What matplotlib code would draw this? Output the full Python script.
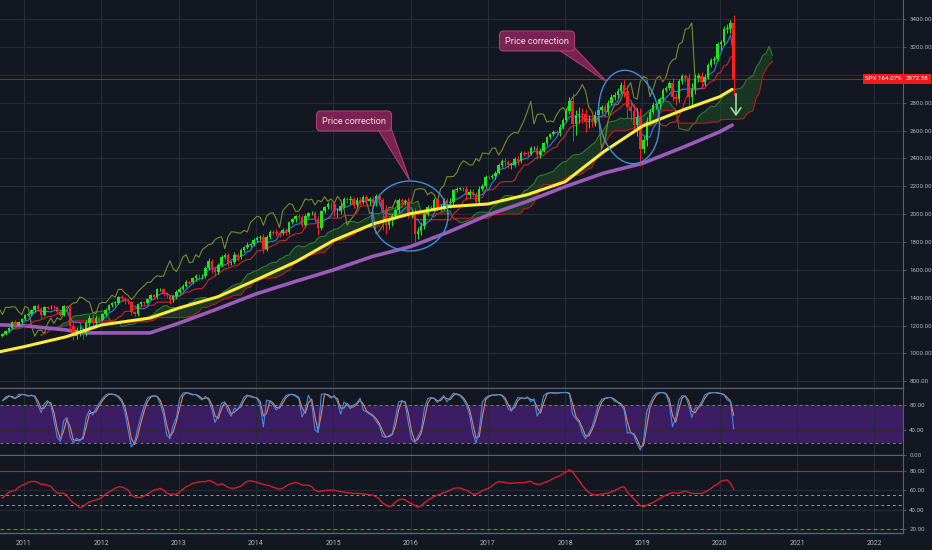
import numpy as np
import pandas as pd
import matplotlib
matplotlib.use("Agg")
import matplotlib.pyplot as plt
from matplotlib.patches import Polygon

plt.rcParams['font.family'] = ['Roboto', 'DejaVu Sans']

# S&P 500, semi-monthly closes (Sep 2010 .. Mar 2020)
first_date = 2010.722
step = 1 / 24
first_open = 1125
closes = [
    1140, 1160, 1180, 1225, 1199, 1224, 1247,
    1276, 1281, 1310, 1343, 1321, 1279, 1332, 1330, 1335, 1333, 1300, 1278,
    1337, 1326, 1199, 1123, 1165, 1166, 1144, 1215, 1253, 1216, 1257, 1241,
    1281, 1315, 1344, 1362, 1364, 1405, 1398, 1378, 1369, 1295, 1285, 1355,
    1367, 1363, 1390, 1418, 1404, 1460, 1460, 1433, 1417, 1387, 1409, 1443,
    1466, 1486, 1512, 1511, 1540, 1558, 1553, 1555, 1614, 1666, 1608, 1588,
    1632, 1692, 1709, 1652, 1655, 1709, 1690, 1745, 1762, 1782, 1785, 1818,
    1831, 1838, 1752, 1836, 1873, 1872, 1865, 1864, 1884, 1872, 1941, 1962,
    1985, 1978, 1920, 1986, 2007, 2010, 1967, 1904, 2023, 2052, 2075, 2070,
    2020, 2022, 2062, 2110, 2101, 2108, 2066, 2100, 2089, 2125, 2092, 2110,
    2077, 2128, 2099, 2035, 1921, 1958, 1987, 2030, 2099, 2089, 2091, 2005,
    2016, 1859, 1880, 1917, 1999, 2049, 2045, 2102, 2050, 2052, 2099, 2083,
    2089, 2173, 2182, 2183, 2179, 2139, 2159, 2141, 2085, 2182, 2204, 2270,
    2269, 2271, 2297, 2351, 2383, 2373, 2353, 2355, 2399, 2381, 2439, 2437,
    2432, 2473, 2476, 2425, 2457, 2508, 2552, 2575, 2587, 2582, 2629, 2679,
    2743, 2810, 2649, 2716, 2720, 2717, 2662, 2670, 2663, 2713, 2748, 2767,
    2736, 2802, 2840, 2857, 2888, 2931, 2885, 2768, 2738, 2641, 2700, 2467,
    2532, 2670, 2737, 2784, 2789, 2824, 2892, 2905, 2945, 2840, 2826, 2954,
    2990, 2976, 2844, 2900, 2976, 2992, 2952, 2986, 3074, 3108, 3117, 3221,
    3234, 3329, 3334, 3373, 2972,
]
# wick lengths above / below the candle body (points)
wick_up = [
    8, 10, 8, 10, 12, 8, 6,
    10, 8, 10, 8, 10, 12, 8, 10, 12, 10, 8, 10, 10, 12, 20, 30, 25, 30, 20, 25, 20, 30, 20, 15,
    10, 12, 10, 10, 12, 10, 12, 10, 10, 8, 12, 10, 12, 10, 10, 8, 12, 10, 12, 10, 10, 12, 10, 10,
    10, 10, 12, 10, 12, 10, 15, 12, 15, 20, 15, 15, 15, 12, 10, 12, 12, 20, 12, 15, 12, 15, 10, 12,
    15, 15, 20, 12, 15, 15, 20, 15, 15, 15, 12, 10, 12, 15, 15, 12, 12, 12, 15, 20, 10, 10, 12, 15,
    20, 20, 15, 15, 15, 20, 15, 20, 20, 15, 15, 15, 20, 15, 15, 20, 30, 25, 20, 15, 15, 20, 20, 30,
    20, 30, 25, 25, 15, 15, 20, 15, 15, 20, 15, 20, 30, 10, 10, 10, 15, 25, 20, 20, 20, 20, 15, 15,
    15, 15, 15, 20, 15, 20, 15, 15, 15, 20, 15, 15, 15, 15, 15, 20, 20, 10, 10, 10, 15, 15, 20, 15,
    20, 30, 60, 30, 50, 40, 40, 40, 30, 30, 20, 20, 25, 20, 20, 20, 20, 15, 30, 40, 40, 50, 60, 60,
    30, 30, 20, 20, 20, 20, 15, 15, 15, 30, 30, 20, 20, 20, 40, 40, 30, 20, 30, 20, 15, 15, 20, 15,
    20, 20, 30, 20, 60,
]
wick_dn = [
    10, 8, 10, 8, 20, 10, 8,
    8, 10, 8, 10, 20, 30, 10, 12, 10, 15, 20, 12, 10, 25, 40, 25, 20, 40, 40, 20, 25, 30, 20, 15,
    10, 10, 10, 10, 20, 10, 15, 20, 15, 20, 15, 20, 15, 15, 10, 10, 10, 12, 15, 20, 20, 30, 15, 15,
    10, 10, 12, 15, 10, 20, 25, 20, 10, 15, 30, 35, 15, 10, 15, 25, 15, 15, 25, 12, 15, 15, 20, 15,
    15, 20, 30, 15, 15, 20, 25, 25, 15, 20, 12, 12, 15, 20, 15, 15, 12, 15, 25, 50, 15, 12, 15, 40,
    30, 40, 20, 20, 20, 30, 25, 15, 25, 15, 20, 25, 30, 15, 30, 150, 60, 30, 40, 15, 20, 30, 25, 35,
    30, 60, 40, 30, 20, 15, 25, 20, 25, 30, 20, 60, 40, 20, 15, 10, 15, 35, 20, 20, 20, 15, 15, 15,
    15, 15, 15, 10, 15, 25, 20, 25, 15, 30, 15, 20, 15, 10, 15, 30, 20, 10, 10, 10, 15, 15, 20, 15,
    20, 20, 120, 80, 60, 60, 70, 40, 40, 30, 20, 30, 30, 20, 20, 20, 20, 15, 40, 80, 60, 60, 80, 120,
    30, 40, 30, 20, 30, 30, 15, 15, 15, 30, 40, 20, 20, 30, 60, 60, 40, 30, 50, 30, 15, 15, 30, 15,
    40, 20, 30, 30, 120,
]

# stochastic RSI %K, same dates
stoch_k = [
    87, 93, 95, 92, 90, 97, 97, 96, 94, 96, 93, 80, 68, 82, 87, 80, 55, 28, 22, 55,
    60, 30, 19, 27, 22, 30, 60, 72, 64, 74, 83, 90, 96, 98, 97, 96, 92, 85, 69, 40,
    13, 20, 42, 62, 79, 91, 94, 95, 93, 82, 64, 32, 26, 48, 60, 90, 99, 100, 98, 96,
    97, 92, 88, 94, 88, 73, 52, 64, 83, 85, 70, 62, 75, 72, 82, 93, 96, 93, 92, 91,
    80, 45, 88, 86, 80, 72, 78, 88, 95, 97, 97, 94, 90, 61, 72, 96, 83, 40, 36, 97,
    98, 95, 91, 95, 85, 65, 85, 80, 74, 80, 83, 91, 72, 69, 65, 62, 54, 47, 30, 28,
    31, 34, 60, 85, 87, 83, 51, 25, 20, 30, 40, 75, 90, 92, 90, 84, 90, 95, 85, 92,
    99, 97, 95, 89, 80, 65, 35, 19, 40, 85, 92, 95, 96, 96, 97, 95, 88, 74, 70, 82,
    92, 91, 90, 93, 85, 90, 62, 72, 95, 99, 100, 99, 99, 100, 100, 100, 98, 65, 58, 52,
    35, 26, 35, 45, 62, 80, 89, 91, 92, 92, 86, 84, 80, 72, 35, 36, 32, 18, 8, 22,
    69, 82, 93, 99, 100, 100, 97, 82, 45, 60, 88, 95, 94, 80, 60, 75, 76, 85, 96, 99,
    100, 100, 99, 98, 96, 88, 85, 42,
]

# RSI moving average, same dates
rsi_ma = [
    52, 55, 58, 59, 60, 63, 65, 66, 68, 69, 69, 68, 66, 66, 65, 64, 60, 57, 57, 57,
    55, 50, 47, 45, 42, 43, 46, 48, 49, 50, 51, 53, 56, 58, 60, 62, 63.5, 63.5, 62, 60,
    55, 53, 52.6, 52.6, 54, 56, 58, 60, 61, 62, 60, 57, 56, 56, 56, 58, 61, 63.5, 65, 67,
    67.5, 68.5, 68.7, 68.7, 70, 69, 67, 65, 67, 65, 63, 62, 62, 63, 64, 67, 69, 69.7, 69, 68,
    67, 66, 65.3, 64.5, 63, 62, 61, 62, 64, 66, 67, 68, 67, 65.3, 65.3, 65, 63.5, 60, 58.5, 59,
    59.5, 60, 60, 60, 59, 58.4, 58, 57.7, 57.2, 56.7, 56.7, 56.7, 56.2, 55.7, 55.3, 55, 53, 51, 47, 45,
    43, 44.5, 48, 50, 51, 50, 48, 46, 44.5, 42.5, 44, 47, 49.5, 51.5, 53.5, 55, 56, 57.5, 58.5, 60,
    61.8, 62.3, 62.3, 61, 60, 58, 56, 56, 57.5, 59.5, 61, 62, 64.5, 67, 68.7, 68.5, 68, 67.3, 67, 67.5,
    67.7, 67.7, 67.7, 68.5, 69.2, 66.8, 66.1, 66, 67.5, 68.7, 70.3, 72, 73.5, 74.8, 77, 78.7, 81, 79, 74, 70,
    65, 61, 57.7, 56, 55, 55.5, 56, 56.5, 57, 58, 59.5, 61.3, 63, 63.5, 58, 54.5, 51, 48, 44, 43,
    44.6, 46, 47.5, 49.5, 51.3, 53, 55, 56.5, 57.5, 57, 57, 58.2, 59, 58, 56.7, 56.7, 56.7, 56.7, 58, 59.5,
    62, 64.5, 66.3, 69, 70.2, 70.4, 67, 61,
]

# long moving averages (yellow and purple), read at key dates
yellow_t = [2010.69, 2011.0, 2011.55, 2012.0, 2012.63, 2013.0, 2013.51, 2014.0, 2014.52, 2015.0,
            2015.51, 2016.0, 2016.51, 2017.0, 2017.51, 2018.0, 2018.5, 2019.0, 2019.52, 2020.0, 2020.16]
yellow_v = [1012, 1048, 1120, 1204, 1254, 1325, 1407, 1527, 1659, 1810,
            1929, 2003, 2055, 2073, 2140, 2233, 2449, 2633, 2748, 2844, 2897]
purple_t = [2010.69, 2011.0, 2011.55, 2011.76, 2012.63, 2013.0, 2013.5, 2014.0, 2014.5, 2015.0,
            2015.5, 2016.0, 2016.5, 2017.0, 2017.5, 2018.0, 2018.5, 2019.0, 2019.5, 2020.0, 2020.16]
purple_v = [1205, 1199, 1168, 1147, 1147, 1216, 1319, 1427, 1515, 1599,
            1695, 1767, 1874, 1994, 2090, 2198, 2295, 2365, 2475, 2592, 2640]

last_price = 2972.38
years = list(range(2011, 2023))
price_ticks = list(range(800, 3401, 200))

BG = '#131722'
GRID = '#262b37'
SEP = '#5d606b'
TXT = '#b2b5be'

closes = np.array(closes, dtype=float)
n = len(closes)
t = first_date + np.arange(n) * step
opens = np.r_[first_open, closes[:-1]]
highs = np.maximum(opens, closes) + np.array(wick_up)
lows = np.minimum(opens, closes) - np.array(wick_dn)
hi = pd.Series(highs)
lo = pd.Series(lows)

# ichimoku (periods in half-months)
tenkan = (hi.rolling(4, 1).max() + lo.rolling(4, 1).min()) / 2
kijun = (hi.rolling(12, 1).max() + lo.rolling(12, 1).min()) / 2
span_a = ((tenkan + kijun) / 2).values
span_b = ((hi.rolling(24, 1).max() + lo.rolling(24, 1).min()) / 2).values
shift = 0.5

stoch_k = np.array(stoch_k, dtype=float)
stoch_d = pd.Series(stoch_k).rolling(2, 1).mean().values

fig = plt.figure(figsize=(9.32, 5.5), dpi=100, facecolor=BG)
W = 903 / 932
ax = fig.add_axes([0, 1 - 388 / 550, W, 388 / 550])
ax_st = fig.add_axes([0, 1 - 455 / 550, W, 67 / 550])
ax_rs = fig.add_axes([0, 1 - 533 / 550, W, 77 / 550])

for a in (ax, ax_st, ax_rs):
    a.set_facecolor(BG)
    a.set_xlim(2010.69, 2022.37)
    a.set_xticks(years)
    a.tick_params(axis='x', length=0, labelbottom=False)
    a.yaxis.tick_right()
    a.tick_params(axis='y', colors=TXT, labelsize=4.4, length=2.5, width=0.6, pad=2, color=SEP)
    a.grid(True, color=GRID, lw=0.8)
    a.set_axisbelow(True)
    for s in ('left', 'top'):
        a.spines[s].set_visible(False)
    a.spines['right'].set_color(SEP)
    a.spines['right'].set_linewidth(0.8)
    a.spines['bottom'].set_color(SEP)
    a.spines['bottom'].set_linewidth(1.0)
ax_st.spines['top'].set_visible(True)
ax_st.spines['top'].set_color(SEP)

# main pane
ax.set_ylim(751.3, 3538.6)
ax.set_yticks(price_ticks)
# the 3000 label sits under the last-price tag
ax.set_yticklabels(['' if v == 3000 else f'{v:.2f}' for v in price_ticks])

ax.fill_between(t + shift, span_a, span_b, where=span_a >= span_b, interpolate=True,
                color='#1f5c26', alpha=0.45, lw=0, zorder=1)
ax.fill_between(t + shift, span_a, span_b, where=span_a < span_b, interpolate=True,
                color='#5c1f24', alpha=0.35, lw=0, zorder=1)
ax.plot(t + shift, span_a, color='#2e7d32', lw=0.8, zorder=2)
ax.plot(t + shift, span_b, color='#b71c1c', lw=0.8, zorder=2)
ax.plot(t - shift, closes, color='#7a8a2a', lw=0.8, zorder=2)
ax.plot(purple_t, purple_v, color='#9a5cb8', lw=2.6, solid_capstyle='round', zorder=3)
ax.plot(t, kijun, color='#c62828', lw=0.8, zorder=3)
ax.plot(t, tenkan, color='#2f7fd8', lw=0.8, zorder=3)

up = closes >= opens
cols = np.where(up, '#1ee61e', '#ff1f1f')
ax.vlines(t, lows, highs, colors=cols, lw=0.7, zorder=4)
body = closes - opens
body = np.where(np.abs(body) < 5, np.where(up, 5, -5), body)
ax.bar(t, body, bottom=opens, width=0.032, color=cols, lw=0, zorder=4)
ax.plot(yellow_t, yellow_v, color='#ffeb3b', lw=2.2, solid_capstyle='round', zorder=5)

ax.axhline(last_price, color='#a81c1c', lw=0.8, zorder=3)
fig.text(902 / 932, 1 - 79 / 550, 'SPX 164.07%', ha='right', va='center', fontsize=4.5, color='white',
         bbox=dict(boxstyle='square,pad=0.35', fc='#f01a1a', ec='none'))
fig.text(906 / 932, 1 - 79 / 550, f'{last_price:.2f}', ha='left', va='center', fontsize=4.5, color='white',
         bbox=dict(boxstyle='square,pad=0.35', fc='#f01a1a', ec='none'))


def px(x, y):
    return x / 903, 1 - y / 388


def ring(cx, cy, rx, ry, ang):
    th = np.linspace(0, 2 * np.pi, 200)
    x = cx + rx * np.cos(th) * np.cos(ang) - ry * np.sin(th) * np.sin(ang)
    y = cy + rx * np.cos(th) * np.sin(ang) + ry * np.sin(th) * np.cos(ang)
    return px(x, y)


for cx, cy, rx, ry, ang in [(410, 216, 38, 35, -0.05), (629, 117, 30, 47, -0.15)]:
    ex, ey = ring(cx, cy, rx, ry, ang)
    ax.plot(ex, ey, color='#3d8fd6', lw=1.0, transform=ax.transAxes, zorder=6)

# callouts
BOX_FC = '#7a2352'
BOX_EC = '#a8406f'
for (bx, by), tail in [((354, 121), [(377, 128), (391, 128), (410, 181)]),
                       ((537, 41), [(556, 48), (572, 45), (607, 82)])]:
    ax.add_patch(Polygon([px(*p) for p in tail], closed=True, transform=ax.transAxes,
                         fc=BOX_FC, ec=BOX_EC, lw=0.8, zorder=7))
    ax.text(*px(bx, by), 'Price correction', transform=ax.transAxes, ha='center', va='center',
            fontsize=6.6, color='#f3dbe6', zorder=8,
            bbox=dict(boxstyle='round,pad=0.6,rounding_size=0.45', fc=BOX_FC, ec=BOX_EC, lw=0.8))

ax.annotate('', xy=px(736, 119), xytext=px(736, 91), xycoords='axes fraction',
            arrowprops=dict(arrowstyle='->,head_length=0.5,head_width=0.35', color='#a5d6a7', lw=1.2),
            zorder=8)

# stochastic RSI pane
ax_st.set_ylim(0, 107.2)
ax_st.set_yticks([0, 40, 80])
ax_st.set_yticklabels(['0.00', '40.00', '80.00'])
ax_st.axhspan(20, 80, color='#3c1c63', lw=0, zorder=0.5)
for lvl in (20, 80):
    ax_st.axhline(lvl, color='#787b86', lw=0.7, ls=(0, (3, 3)), zorder=1)
ax_st.plot(t, stoch_d, color='#e8845a', lw=0.8, zorder=2)
ax_st.plot(t, stoch_k, color='#3b8ee8', lw=0.8, zorder=3)

# RSI pane
ax_rs.set_ylim(16.1, 95.1)
ax_rs.set_yticks([20, 40, 60, 80])
ax_rs.set_yticklabels(['20.00', '40.00', '60.00', '80.00'])
ax_rs.axhline(80, color='#b22833', lw=0.8, zorder=1)
for lvl in (45, 55):
    ax_rs.axhline(lvl, color='#9598a1', lw=0.7, ls=(0, (3, 3)), zorder=1)
ax_rs.axhline(20, color='#2e9e3e', lw=0.8, ls=(0, (3, 3)), zorder=1)
ax_rs.plot(t, rsi_ma, color='#d0202a', lw=1.0, zorder=2)
ax_rs.tick_params(axis='x', labelbottom=True, labelsize=5, colors=TXT, pad=5)
ax_rs.set_xticklabels([str(y) for y in years])

fig.savefig('out.png', dpi=100, facecolor=BG)
